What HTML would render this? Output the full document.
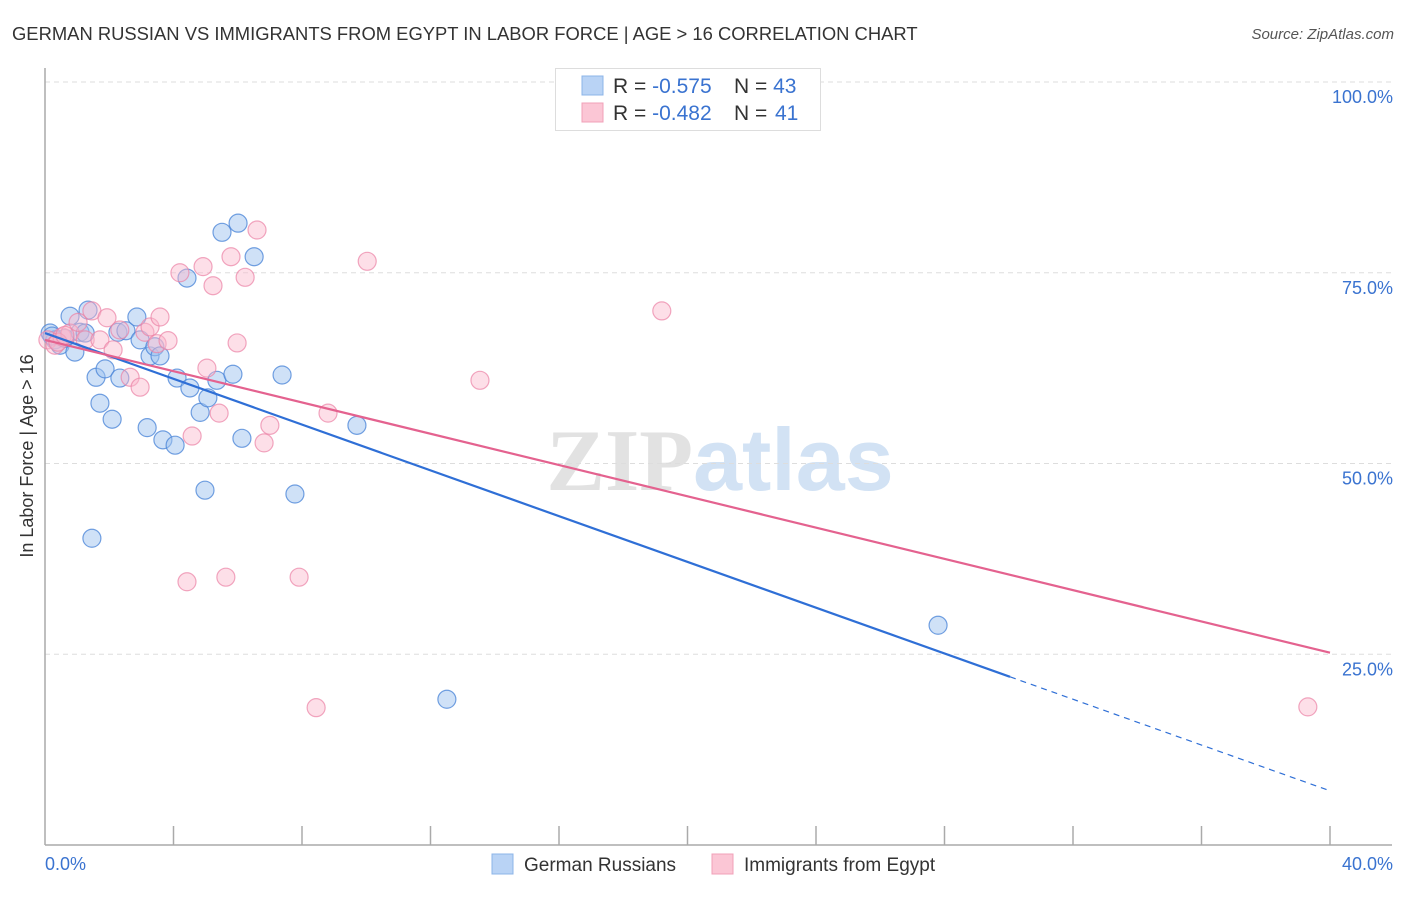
<!DOCTYPE html>
<html><head><meta charset="utf-8"><style>
body{margin:0;background:#fff;font-family:"Liberation Sans",sans-serif;}
svg text{font-family:"Liberation Sans",sans-serif;}
</style></head><body>
<svg id="chart" width="1406" height="892" xmlns="http://www.w3.org/2000/svg">
<text x="12" y="40" font-size="18.4" fill="#333">GERMAN RUSSIAN VS IMMIGRANTS FROM EGYPT IN LABOR FORCE | AGE &gt; 16 CORRELATION CHART</text>
<text x="1394" y="39" font-size="15" fill="#555" font-style="italic" text-anchor="end">Source: ZipAtlas.com</text>
<text x="720" y="490" font-size="88" text-anchor="middle"><tspan fill="#e2e2e2" font-family="Liberation Serif" font-weight="bold">ZIP</tspan><tspan fill="#d2e2f4" font-weight="bold">atlas</tspan></text>
<text transform="translate(33,456) rotate(-90)" font-size="18" fill="#333" text-anchor="middle">In Labor Force | Age &gt; 16</text>
<g id="grid"></g>
<g id="axes"></g>
<g id="pts"></g>
<g id="trends"></g>
<g>
<rect x="555.5" y="68.5" width="265" height="62" fill="#fff" stroke="#ddd"/>
<rect x="582" y="76" width="21" height="19" fill="#b9d3f5" stroke="#8cb4e8"/>
<rect x="582" y="103" width="21" height="19" fill="#fbc6d5" stroke="#f0a0b8"/>
<text x="613" y="93" font-size="21" fill="#333">R = <tspan fill="#3a73d0">-0.575</tspan><tspan x="734">N = </tspan><tspan fill="#3a73d0">43</tspan></text>
<text x="613" y="120" font-size="21" fill="#333">R = <tspan fill="#3a73d0">-0.482</tspan><tspan x="734">N = </tspan><tspan fill="#3a73d0" x="775">41</tspan></text>
</g>
<g>
<rect x="492" y="854" width="21" height="20" fill="#b9d3f5" stroke="#8cb4e8"/>
<text x="524" y="871" font-size="19" fill="#333">German Russians</text>
<rect x="712" y="854" width="21" height="20" fill="#fbc6d5" stroke="#f0a0b8"/>
<text x="744" y="871" font-size="19" fill="#333">Immigrants from Egypt</text>
</g>
</svg>
<script>
const blueX=[0.16,0.31,0.47,0.62,0.78,0.93,1.09,1.25,1.34,1.46,1.59,1.71,1.87,2.09,2.27,2.33,2.52,2.86,2.96,3.18,3.27,3.42,3.58,3.67,4.05,4.11,4.42,4.51,4.83,4.98,5.07,5.35,5.51,5.85,6.01,6.13,6.51,7.38,7.78,9.71,12.51,27.80,0.22];
const blueY=[67.1,66.2,65.5,66.4,69.3,64.6,67.2,67.1,70.1,40.2,61.3,57.9,62.4,55.8,67.2,61.2,67.4,69.2,66.2,54.7,64.1,65.3,64.1,53.1,52.4,61.2,74.3,59.9,56.7,46.5,58.6,60.9,80.3,61.7,81.5,53.3,77.1,61.6,46.0,55.0,19.1,28.8,66.7];
const pinkX=[0.09,0.31,0.53,0.78,1.03,1.25,1.46,1.71,1.93,2.12,2.33,2.65,2.96,3.11,3.27,3.49,3.58,3.83,4.20,4.42,4.58,4.92,5.04,5.23,5.42,5.63,5.79,5.98,6.23,6.60,6.82,7.00,7.91,8.44,8.81,10.03,13.54,19.20,39.31,0.40,0.62];
const pinkY=[66.2,65.5,66.6,67.1,68.5,66.2,70.0,66.2,69.1,64.9,67.5,61.3,60.0,67.2,67.9,65.7,69.2,66.1,75.0,34.5,53.6,75.8,62.5,73.3,56.6,35.1,77.1,65.8,74.4,80.6,52.7,55.0,35.1,18.0,56.6,76.5,60.9,70.0,18.1,65.9,66.8];
const blueTrend=[67.1,7.1];   // y at x=0 and x=40
const pinkTrend=[66.2,25.2];
const blueSolidEnd=30.04;
const yTicks=[100,75,50,25];
const yTickLabels=["100.0%","75.0%","50.0%","25.0%"];
const xTicks=[0,4,8,12,16,20,24,28,32,36,40];
const xTickLabels=["0.0%","40.0%"];

const NS="http://www.w3.org/2000/svg";
const X=v=>45+v/40*1285;
const Y=v=>845-v/100*763;
function mk(tag,attrs,parent){const e=document.createElementNS(NS,tag);for(const k in attrs)e.setAttribute(k,attrs[k]);document.getElementById(parent).appendChild(e);return e;}

yTicks.forEach((t,i)=>{
  const l=mk('line',{x1:45,x2:1392,y1:Y(t),y2:Y(t),stroke:'#ddd','stroke-dasharray':'5,4'},'grid');
  
  
  const tx=mk('text',{x:1393,y:Y(t)+21,'font-size':18,fill:'#3a73d0','text-anchor':'end'},'grid');
  tx.textContent=yTickLabels[i];
  
  
});
const ya=mk('line',{x1:45,x2:45,y1:68,y2:845,stroke:'#aaa','stroke-width':1.5},'axes');


const xa=mk('line',{x1:45,x2:1392,y1:845,y2:845,stroke:'#aaa','stroke-width':1.5},'axes');


xTicks.forEach(t=>{
  if(t===0)return;
  const l=mk('line',{x1:X(t),x2:X(t),y1:826,y2:845,stroke:'#aaa','stroke-width':1.5},'axes');
  
  
});
const xl0=mk('text',{x:45,y:870,'font-size':18,fill:'#3a73d0'},'axes');xl0.textContent=xTickLabels[0];


const xl1=mk('text',{x:1393,y:870,'font-size':18,fill:'#3a73d0','text-anchor':'end'},'axes');xl1.textContent=xTickLabels[1];



blueX.forEach((v,i)=>{
  const c=mk('circle',{cx:X(v),cy:Y(blueY[i]),r:9,fill:'rgba(160,195,240,0.5)',stroke:'rgba(70,130,215,0.75)','stroke-width':1.2},'pts');
  
  
});
pinkX.forEach((v,i)=>{
  const c=mk('circle',{cx:X(v),cy:Y(pinkY[i]),r:9,fill:'rgba(250,185,205,0.45)',stroke:'rgba(235,130,165,0.7)','stroke-width':1.2},'pts');
  
  
});
const by=x=>blueTrend[0]+(blueTrend[1]-blueTrend[0])*x/40;
const b1=mk('line',{x1:X(0),y1:Y(by(0)),x2:X(blueSolidEnd),y2:Y(by(blueSolidEnd)),stroke:'#2f6fd6','stroke-width':2.2},'trends');


const b2=mk('line',{x1:X(blueSolidEnd),y1:Y(by(blueSolidEnd)),x2:X(40),y2:Y(by(40)),stroke:'#2f6fd6','stroke-width':1.2,'stroke-dasharray':'6,5'},'trends');


const p1=mk('line',{x1:X(0),y1:Y(pinkTrend[0]),x2:X(40),y2:Y(pinkTrend[1]),stroke:'#e4628f','stroke-width':2.2},'trends');


</script>
</body></html>
